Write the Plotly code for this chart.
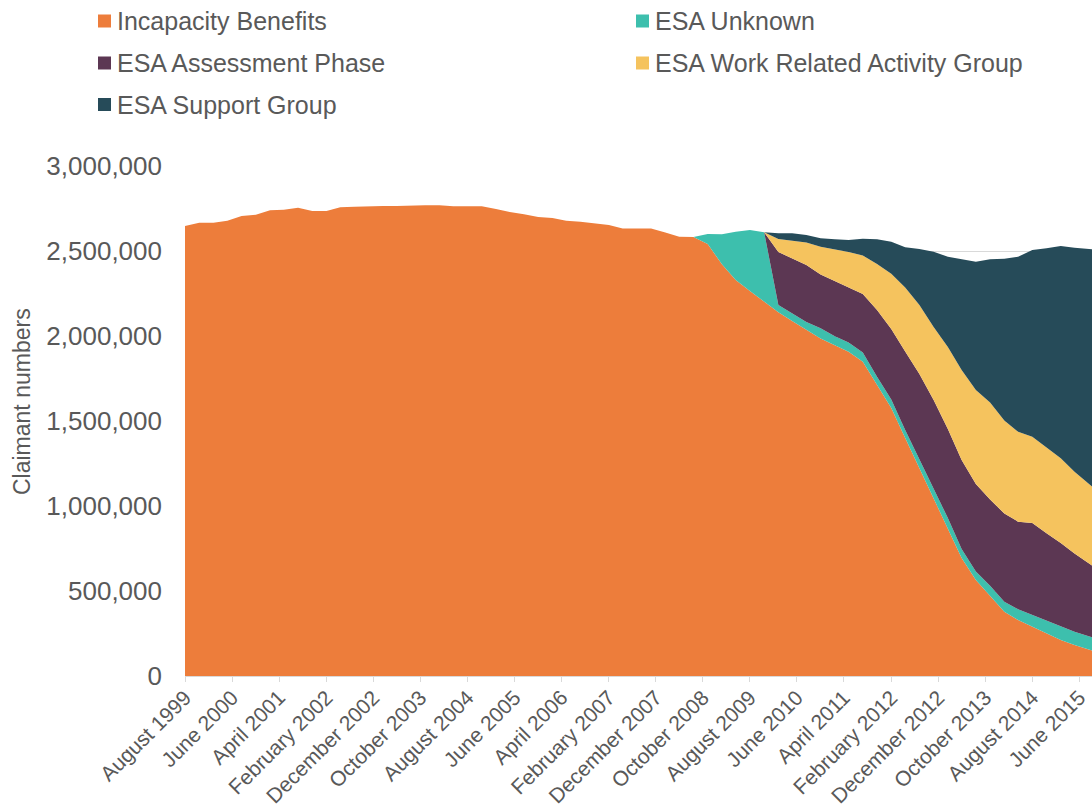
import pandas as pd
import plotly.graph_objects as go

# Quarterly claimant counts, August 1999 to November 2015
dates = pd.date_range("1999-08-01", periods=66, freq="3MS")

incapacity_benefits = [
    2647000, 2666000, 2666000, 2678000, 2706000, 2713000, 2739000, 2743000, 2755000, 2735000,
    2735000, 2757000, 2761000, 2765000, 2765000, 2765000, 2769000, 2769000, 2769000, 2763000,
    2763000, 2763000, 2747000, 2729000, 2716000, 2700000, 2694000, 2678000, 2672000, 2663000,
    2653000, 2633000, 2633000, 2633000, 2609000, 2584000, 2582000, 2541000, 2422000, 2329000,
    2265000, 2200000, 2139000, 2088000, 2035000, 1986000, 1946000, 1908000, 1849000, 1713000,
    1576000, 1400000, 1223000, 1049000, 870000, 694000, 565000, 472000, 378000, 329000,
    290000, 250000, 212000, 182000, 156000, 129000,
]

esa_unknown = [None] * 36 + [
    0, 59000, 176000, 284000, 358000, 410000, 43000, 47000, 47000, 59000,
    53000, 54000, 54000, 47000, 50000, 47000, 49000, 53000, 59000, 53000,
    50000, 59000, 59000, 64000, 69000, 74000, 78000, 78000, 78000, 78000,
]

esa_assessment = [None] * 41 + [
    0, 312000, 324000, 336000, 317000, 324000, 324000, 344000, 393000, 415000,
    462000, 504000, 521000, 524000, 524000, 514000, 507000, 519000, 515000, 541000,
    515000, 492000, 461000, 431000, 399000,
]

esa_wrag = [None] * 41 + [
    0, 76000, 103000, 132000, 163000, 186000, 208000, 226000, 270000, 325000,
    377000, 406000, 430000, 482000, 529000, 553000, 571000, 547000, 529000, 508000,
    504000, 499000, 481000, 464000, 453000,
]

esa_support = [None] * 41 + [
    0, 34000, 42000, 44000, 50000, 60000, 71000, 99000, 146000, 189000,
    236000, 330000, 443000, 531000, 651000, 755000, 842000, 952000, 1029000, 1098000,
    1173000, 1248000, 1317000, 1383000, 1446000,
]

series_names = [
    "Incapacity Benefits",
    "ESA Unknown",
    "ESA Assessment Phase",
    "ESA Work Related Activity Group",
    "ESA Support Group",
]
series_values = [incapacity_benefits, esa_unknown, esa_assessment, esa_wrag, esa_support]
series_colors = ["#ED7D3B", "#3DBFAD", "#5C3753", "#F5C35E", "#264B59"]

tick_dates = pd.date_range("1999-08-01", periods=20, freq="10MS")
tick_labels = [
    "August 1999", "June 2000", "April 2001", "February 2002", "December 2002",
    "October 2003", "August 2004", "June 2005", "April 2006", "February 2007",
    "December 2007", "October 2008", "August 2009", "June 2010", "April 2011",
    "February 2012", "December 2012", "October 2013", "August 2014", "June 2015",
]

y_ticks = [0, 500000, 1000000, 1500000, 2000000, 2500000, 3000000]

TEXT = "#595959"
GRID = "#D9D9D9"
FONT = "Liberation Sans, Arial, sans-serif"

W, H = 1092, 809
L, R, T, B = 185, 0, 166, 133
plot_w = W - L - R
plot_h = H - T - B

fig = go.Figure()
for name, vals, color in zip(series_names, series_values, series_colors):
    fig.add_trace(go.Scatter(
        x=dates, y=vals, name=name,
        mode="lines", stackgroup="claims",
        line=dict(width=0, color=color),
        fillcolor=color,
        showlegend=False,
        hoverinfo="x+y+name",
    ))

# Legend drawn in two columns with square swatches
def px_x(px):
    return (px - L) / plot_w

def px_y(py):
    return (H - B - py) / plot_h

legend_cols = [98, 636]
legend_rows = [21, 63, 104.5]
sw = 13
shapes = []
annotations = []
for i, (name, color) in enumerate(zip(series_names, series_colors)):
    cx = legend_cols[i % 2]
    cy = legend_rows[i // 2]
    shapes.append(dict(
        type="rect", xref="paper", yref="paper",
        x0=px_x(cx), x1=px_x(cx + sw), y0=px_y(cy + sw / 2), y1=px_y(cy - sw / 2),
        fillcolor=color, line=dict(width=0),
    ))
    annotations.append(dict(
        xref="paper", yref="paper", x=px_x(cx + sw + 4), y=px_y(cy),
        xanchor="left", yanchor="middle", showarrow=False,
        text=name, font=dict(family=FONT, size=25, color=TEXT),
    ))

annotations.append(dict(
    xref="paper", yref="paper", x=px_x(22), y=px_y(402),
    xanchor="center", yanchor="middle", showarrow=False, textangle=-90,
    text="Claimant numbers", font=dict(family=FONT, size=23, color=TEXT),
))

fig.update_layout(
    width=W, height=H,
    margin=dict(l=L, r=R, t=T, b=B, pad=0, autoexpand=False),
    paper_bgcolor="white", plot_bgcolor="white",
    font=dict(family=FONT, color=TEXT),
    showlegend=False,
    shapes=shapes,
    annotations=annotations,
    xaxis=dict(
        type="date",
        range=["1999-08-01", "2015-08-22"],
        tickmode="array", tickvals=tick_dates, ticktext=tick_labels,
        tickangle=-45,
        tickfont=dict(family=FONT, size=21, color=TEXT),
        showgrid=False, zeroline=False,
        showline=True, linecolor=GRID, linewidth=1,
        ticks="outside", ticklen=5, tickcolor=GRID, tickwidth=1,
        ticklabelstandoff=-5,
        automargin=False,
    ),
    yaxis=dict(
        range=[0, 3000000],
        tickmode="array", tickvals=y_ticks,
        tickformat=",d",
        tickfont=dict(family=FONT, size=26, color=TEXT),
        showgrid=True, gridcolor=GRID, gridwidth=1,
        zeroline=False, showline=False,
        ticks="", ticklabelstandoff=22,
        automargin=False,
    ),
)

fig.write_html("out.html")
